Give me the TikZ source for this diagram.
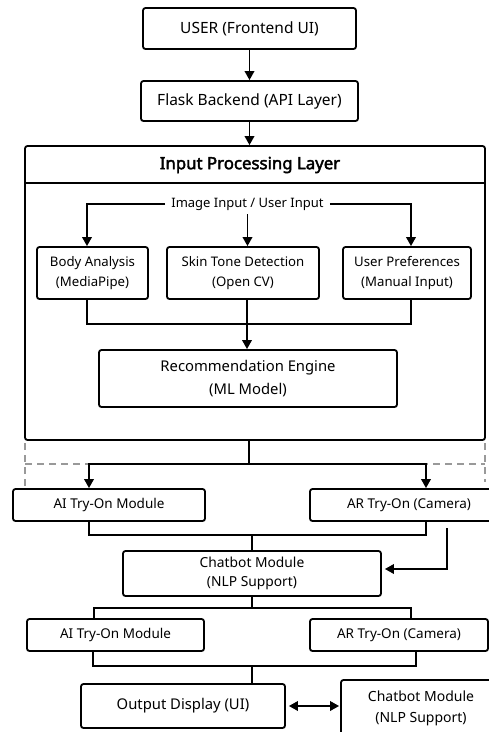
\documentclass[tikz,border=0pt]{standalone}
\usepackage{fontspec}
\setmainfont{Noto Sans}
\newfontfamily\headfont{Noto Sans}[FakeBold=2.4]
\usetikzlibrary{arrows.meta}
\begin{document}
\begin{tikzpicture}[x=1pt,y=-1pt,
  box/.style={draw, line width=1.8pt, rounded corners=2.5pt, inner sep=0pt, align=center, fill=white},
  fa/.style={font=\fontsize{15.5}{21}\selectfont},
  fb/.style={font=\fontsize{14.8}{23}\selectfont},
  fc/.style={font=\fontsize{13.5}{20}\selectfont},
  fd/.style={font=\fontsize{13.2}{20.5}\selectfont},
  conn/.style={line width=1.8pt},
  arr/.style={conn, -{Triangle[length=9pt,width=9.5pt]}},
  darr/.style={conn, {Triangle[length=9pt,width=9.5pt]}-{Triangle[length=9pt,width=9.5pt]}},
  guideline/.style={draw=black!40, line width=1.1pt, dash pattern=on 7pt off 5pt}
]
\useasboundingbox[fill=white] (0,0) rectangle (489,732);
% dashed guide
\draw[guideline] (25,443) -- (25,489);
\draw[guideline] (25,464) -- (485,464);
\draw[guideline] (485,443) -- (485,482);

\node[box, fa, minimum width=213, minimum height=41] (user) at (249.5,28.5) {USER (Frontend UI)};
\node[box, fa, minimum width=217, minimum height=40] (flask) at (249.5,101) {Flask Backend (API Layer)};
\node[box, minimum width=460, minimum height=294, fill=none] (layer) at (255,293) {};
\coordinate (hl) at (25,183);
\coordinate (hr) at (485,183);
\draw[conn] (hl) -- (hr);
\node[font=\headfont\fontsize{16.8}{18}\selectfont, inner sep=0pt] (head) at (250,165) {Input Processing Layer};
\node[font=\fontsize{13}{15}\selectfont, inner sep=0pt] (inp) at (247.5,204) {Image Input / User Input};

\node[box, fd, minimum width=111, minimum height=52] (body) at (92.5,273) {Body Analysis\\(MediaPipe)};
\node[box, fd, minimum width=152, minimum height=52] (skin) at (243,273) {Skin Tone Detection\\(Open CV)};
\node[box, fd, minimum width=128, minimum height=52] (pref) at (407,273) {User Preferences\\(Manual Input)};
\node[box, fb, minimum width=298, minimum height=57] (rec) at (248,378.5) {Recommendation Engine\\(ML Model)};

\node[box, fc, minimum width=192, minimum height=32] (ai1) at (109,505) {AI Try-On Module};
\node[box, fc, minimum width=198, minimum height=32] (ar1) at (409,505) {AR Try-On (Camera)};
\node[box, fc, font=\fontsize{13.8}{19.5}\selectfont, minimum width=258, minimum height=45] (chat1) at (252,573.5) {Chatbot Module\\(NLP Support)};
\node[box, fc, minimum width=177, minimum height=32] (ai2) at (115.5,635) {AI Try-On Module};
\node[box, fc, minimum width=178, minimum height=32] (ar2) at (399,635) {AR Try-On (Camera)};
\node[box, fb, minimum width=204, minimum height=44] (out) at (183,706) {Output Display (UI)};
\node[box, fc, font=\fontsize{14}{21}\selectfont, minimum width=160, minimum height=56] (chat2) at (421,708) {Chatbot Module\\(NLP Support)};

% top arrows
\draw[arr] (user) -- (flask);
\draw[arr] (flask.south) -- (flask.south |- layer.north);

% input distribution
\coordinate (bN) at ([xshift=-5.5]body.north);
\coordinate (pN) at ([xshift=4]pref.north);
\draw[arr] ([xshift=-6]inp.west) -| (bN);
\draw[arr] ([xshift=6]inp.east) -| (pN);
\draw[arr] ([yshift=-4]inp.south) -- (inp.south |- skin.north);

% merge to rec
\coordinate (m1) at (247,324);
\draw[conn] ([xshift=-5.5]body.south) |- (m1) -| ([xshift=4]pref.south);
\draw[arr] (skin.south -| m1) -- (m1 |- rec.north);

% layer to try-on
\coordinate (s1) at (249,464);
\draw[conn] (s1 |- layer.south) -- (s1);
\draw[arr] (s1) -| ([xshift=-20]ai1.north);
\draw[arr] (s1) -| ([xshift=17]ar1.north);

% try-on merge to chatbot
\coordinate (m2) at (252,535);
\draw[conn] ([xshift=-20]ai1.south) |- (m2) -| ([xshift=17]ar1.south);
\draw[conn] (m2) -- (m2 |- chat1.north);
\coordinate (c1) at (447,528);
\coordinate (c2) at (447,569);
\draw[arr] (c1) -- (c2) -- ([yshift=4.5,xshift=3]chat1.east);

% chatbot to second try-on
\coordinate (s2) at (252,608);
\draw[conn] (chat1.south) -- (s2);
\draw[conn] ([xshift=-21.5]ai2.north) |- (s2) -| ([xshift=12]ar2.north);

% merge to output
\coordinate (m3) at (252,666);
\draw[conn] ([xshift=-22.5]ai2.south) |- (m3) -| ([xshift=17]ar2.south);
\draw[conn] (m3) -- (m3 |- out.north);

% output <-> chatbot
\draw[darr] ([xshift=3]out.east) -- ([xshift=-1]chat2.west |- out.east);
\end{tikzpicture}
\end{document}
